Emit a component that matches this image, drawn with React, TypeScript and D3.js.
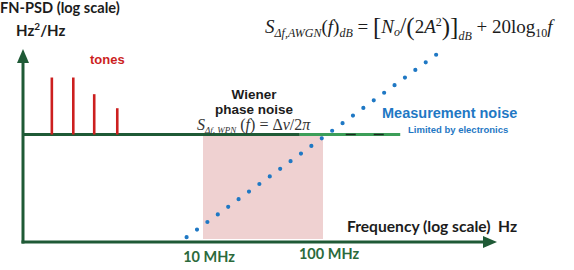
import * as d3 from 'd3';
import React, { useRef, useEffect } from 'react';

// frequency (Hz) and level (dB) of the spurious tones
const toneFreqs = [5.5e5, 8.3e5, 1.24e6, 1.93e6];
const toneLevels = [13, 13, 9.2, 6];

// flat Wiener phase noise level (dB) and where the drawn line stops
const wienerLevel = 0;
const wienerEnd = 4.4e8;
const wienerBright = 6.4e7;

// AWGN measurement noise: +20 dB/decade, crossing the Wiener level here
const awgnCorner = 1.08e8;
const awgnFreqs = [7.3e6, 1.07e9];

// shaded band and tick labels
const bandFreqs = [1e7, 1e8];
const tickFreqs = [1e7, 1e8];
const tickLabels = ['10 MHz', '100 MHz'];

const GREEN = '#1f5a36';
const RED = '#cc1f1f';
const BLUE = '#1f78c4';
const INK = '#1c1c1c';
const LABEL_FONT = 'Lato, "Open Sans", sans-serif';
const ARIAL = '"Liberation Sans", Arial, sans-serif';
const SERIF = '"Liberation Serif", "DejaVu Serif", serif';

function App() {
  const ref = useRef<SVGSVGElement>(null);

  const width = 574;
  const height = 270;

  const x = d3.scaleLog().domain([1e7, 1e8]).range([203, 323]);
  const y = d3.scaleLinear().domain([-24.5, 19.5]).range([242, 49]);

  const x0 = 23;
  const y0 = 242;
  const xEnd = 497;
  const yTop = 49;

  const awgn = (f: number) => wienerLevel + 20 * Math.log10(f / awgnCorner);

  useEffect(() => {
    const svg = d3.select(ref.current);
    const plot = svg.select('.plot-area');
    plot.selectAll('*').remove();

    // measurement noise as a round-dotted line
    const line = d3.line<number>()
      .x((f) => x(f))
      .y((f) => y(awgn(f)));
    const path = plot.append('path')
      .datum(awgnFreqs)
      .attr('fill', 'none')
      .attr('stroke', BLUE)
      .attr('stroke-width', 4.2)
      .attr('stroke-linecap', 'round')
      .attr('d', line);
    const len = (path.node() as SVGPathElement).getTotalLength();
    path.attr('stroke-dasharray', `0 ${len / 25}`);
  }, []);

  return (
    <svg
      ref={ref}
      width={width}
      height={height}
      style={{ position: 'absolute', left: 0, top: 0, background: '#fff' }}
    >
      {/* shaded band between 10 and 100 MHz */}
      <rect
        x={x(bandFreqs[0])}
        y={y(wienerLevel)}
        width={x(bandFreqs[1]) - x(bandFreqs[0])}
        height={y0 - 3 - y(wienerLevel)}
        fill="#efd1d1"
      />

      {/* Wiener phase noise floor */}
      <line x1={x0} x2={x(wienerBright)} y1={y(wienerLevel)} y2={y(wienerLevel)} stroke={GREEN} strokeWidth={3} />
      <line x1={x(wienerBright)} x2={x(wienerEnd)} y1={y(wienerLevel)} y2={y(wienerLevel)} stroke="#3c9e58" strokeWidth={3} />
      <line
        x1={x(wienerBright) + 46}
        x2={x(wienerEnd)}
        y1={y(wienerLevel)}
        y2={y(wienerLevel)}
        stroke="#1a2a20"
        strokeWidth={1.6}
        strokeDasharray="10 18"
      />

      {/* tones */}
      {toneFreqs.map((f, i) => (
        <line
          key={i}
          x1={x(f)}
          x2={x(f)}
          y1={y(wienerLevel)}
          y2={y(toneLevels[i])}
          stroke={RED}
          strokeWidth={2.6}
        />
      ))}

      <g className="plot-area" />

      {/* axes */}
      <line x1={x0} x2={x0} y1={yTop + 10} y2={y0 + 1.5} stroke={GREEN} strokeWidth={3} />
      <path d={`M${x0},${yTop} L${x0 - 6},${yTop + 14} L${x0 + 6},${yTop + 14} Z`} fill={GREEN} />
      <line x1={x0 - 1.5} x2={xEnd - 10} y1={y0} y2={y0} stroke={GREEN} strokeWidth={3} />
      <path d={`M${xEnd},${y0} L${xEnd - 14},${y0 - 6} L${xEnd - 14},${y0 + 6} Z`} fill={GREEN} />

      {/* tick labels */}
      {tickFreqs.map((f, i) => (
        <text
          key={i}
          x={x(f) + 6}
          y={i === 0 ? 261.5 : 259}
          textAnchor="middle"
          fontFamily={LABEL_FONT}
          fontWeight={700}
          fontSize={14.5}
          fill="#2b6a3c"
        >
          {tickLabels[i]}
        </text>
      ))}

      {/* axis titles */}
      <text x={0} y={13} fontFamily={LABEL_FONT} fontWeight={700} fontSize={14.6} fill={INK}>
        FN-PSD (log scale)
      </text>
      <text x={16} y={36} fontFamily={LABEL_FONT} fontWeight={700} fontSize={15} fill={INK}>
        Hz<tspan dy={-6} fontSize={10}>2</tspan><tspan dy={6}>/Hz</tspan>
      </text>
      <text x={347} y={232} fontFamily={LABEL_FONT} fontWeight={700} fontSize={15.6} fill={INK} xmlSpace="preserve">
        Frequency (log scale)  Hz
      </text>

      <text x={90} y={64} fontFamily={ARIAL} fontWeight={700} fontSize={13} fill={RED}>
        tones
      </text>

      {/* Wiener label */}
      <text x={254} y={99} textAnchor="middle" fontFamily={ARIAL} fontWeight={700} fontSize={13.5} fill={INK}>
        Wiener
      </text>
      <text x={254} y={114} textAnchor="middle" fontFamily={ARIAL} fontWeight={700} fontSize={13.5} fill={INK}>
        phase noise
      </text>
      <text x={197} y={129.5} fontFamily={SERIF} fontSize={16} fill="#333">
        <tspan fontStyle="italic">S</tspan>
        <tspan dy={3.5} fontSize={9} fontStyle="italic">Δf, WPN</tspan>
        <tspan dy={-3.5}> (</tspan>
        <tspan fontStyle="italic">f</tspan>
        <tspan>) = Δ</tspan>
        <tspan fontStyle="italic">ν</tspan>
        <tspan>/2</tspan>
        <tspan fontStyle="italic">π</tspan>
      </text>

      {/* measurement noise label */}
      <text x={382} y={117.5} fontFamily={ARIAL} fontWeight={700} fontSize={14.5} fill={BLUE}>
        Measurement noise
      </text>
      <text x={408} y={133} fontFamily={ARIAL} fontWeight={700} fontSize={9.5} fill={BLUE}>
        Limited by electronics
      </text>

      {/* AWGN formula */}
      <text x={265} y={33} fontFamily={SERIF} fontSize={19} fill={INK}>
        <tspan fontStyle="italic">S</tspan>
        <tspan dy={4} fontSize={12} fontStyle="italic">Δf,AWGN</tspan>
        <tspan dy={-4}>(</tspan>
        <tspan fontStyle="italic">f</tspan>
        <tspan>)</tspan>
        <tspan dy={4} fontSize={12} fontStyle="italic">dB</tspan>
        <tspan dy={-4}> = </tspan>
        <tspan fontSize={25} dy={1.5}>[</tspan>
        <tspan dy={-1.5} fontStyle="italic">N</tspan>
        <tspan dy={3} fontSize={12} fontStyle="italic">o</tspan>
        <tspan dy={-3} fontSize={23}>/</tspan>
        <tspan fontSize={25} dy={1.5}>(</tspan>
        <tspan dy={-1.5}>2</tspan>
        <tspan fontStyle="italic">A</tspan>
        <tspan dy={-7} fontSize={12}>2</tspan>
        <tspan dy={8.5} fontSize={25}>)</tspan>
        <tspan fontSize={25}>]</tspan>
        <tspan dy={5} fontSize={12} fontStyle="italic">dB</tspan>
        <tspan dy={-6.5}> + 20log</tspan>
        <tspan dy={4} fontSize={12}>10</tspan>
        <tspan dy={-4} fontStyle="italic">f</tspan>
      </text>
    </svg>
  );
}

export default App;
